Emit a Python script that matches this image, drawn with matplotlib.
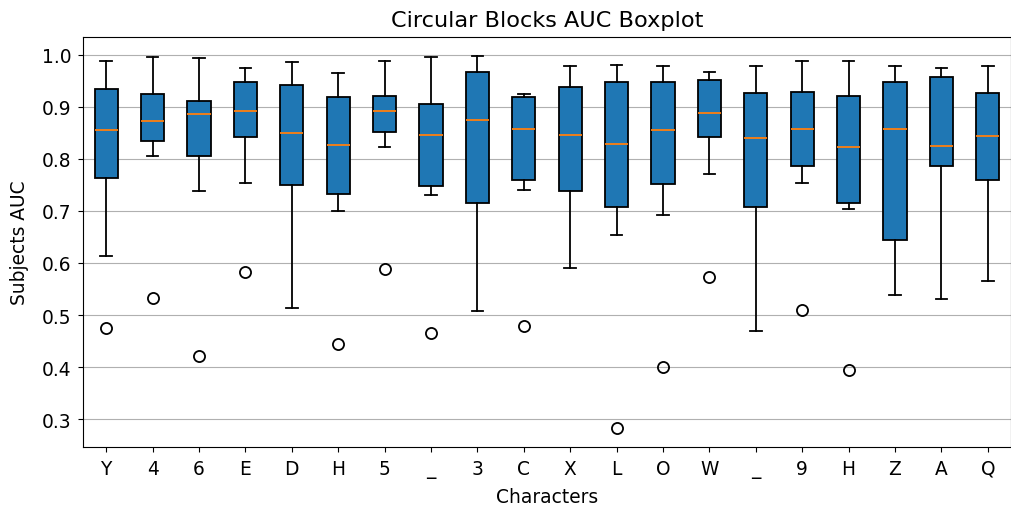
import numpy as np
import matplotlib
matplotlib.use('Agg')
import matplotlib.pyplot as plt

# characters on the x axis
labels = ['Y', '4', '6', 'E', 'D', 'H', '5', '_', '3', 'C',
          'X', 'L', 'O', 'W', '_', '9', 'H', 'Z', 'A', 'Q']

# box stats
whislo = [0.613, 0.806, 0.738, 0.754, 0.514, 0.700, 0.823, 0.731, 0.508, 0.741,
          0.590, 0.653, 0.693, 0.771, 0.470, 0.754, 0.703, 0.538, 0.530, 0.565]
q1 = [0.763, 0.834, 0.806, 0.841, 0.749, 0.733, 0.851, 0.747, 0.716, 0.759,
      0.738, 0.708, 0.751, 0.841, 0.708, 0.787, 0.716, 0.644, 0.787, 0.759]
med = [0.855, 0.872, 0.885, 0.891, 0.849, 0.826, 0.891, 0.846, 0.875, 0.857,
       0.846, 0.829, 0.855, 0.888, 0.839, 0.857, 0.822, 0.857, 0.824, 0.844]
q3 = [0.934, 0.924, 0.910, 0.947, 0.942, 0.918, 0.921, 0.906, 0.967, 0.918,
      0.938, 0.947, 0.947, 0.952, 0.926, 0.928, 0.921, 0.947, 0.957, 0.926]
whishi = [0.988, 0.996, 0.993, 0.975, 0.985, 0.965, 0.988, 0.995, 0.998, 0.924,
          0.978, 0.980, 0.978, 0.967, 0.978, 0.988, 0.988, 0.978, 0.975, 0.978]
fliers = [[0.476], [0.533], [0.422], [0.582], [], [0.445], [0.588], [0.466], [], [0.480],
          [], [0.283], [0.401], [0.573], [], [0.510], [0.394], [], [], []]

stats = []
for i in range(len(labels)):
    stats.append({'whislo': whislo[i], 'q1': q1[i], 'med': med[i], 'q3': q3[i],
                  'whishi': whishi[i], 'fliers': fliers[i], 'label': labels[i]})

plt.rcParams['font.size'] = 13.4

fig = plt.figure(figsize=(10.12, 5.06), dpi=100)
ax = fig.add_axes([0.082, 0.115, 0.917, 0.81])
ax.bxp(stats, patch_artist=True,
       boxprops={'linewidth': 1.3}, whiskerprops={'linewidth': 1.3},
       capprops={'linewidth': 1.3}, medianprops={'linewidth': 1.3},
       flierprops={'markersize': 8, 'markeredgewidth': 1.3})
ax.yaxis.grid(True)
ax.tick_params(pad=5)
ax.set_title('Circular Blocks AUC Boxplot', pad=8)
ax.set_xlabel('Characters', labelpad=7)
ax.set_ylabel('Subjects AUC', labelpad=9)

fig.savefig('out.png', dpi=100)
